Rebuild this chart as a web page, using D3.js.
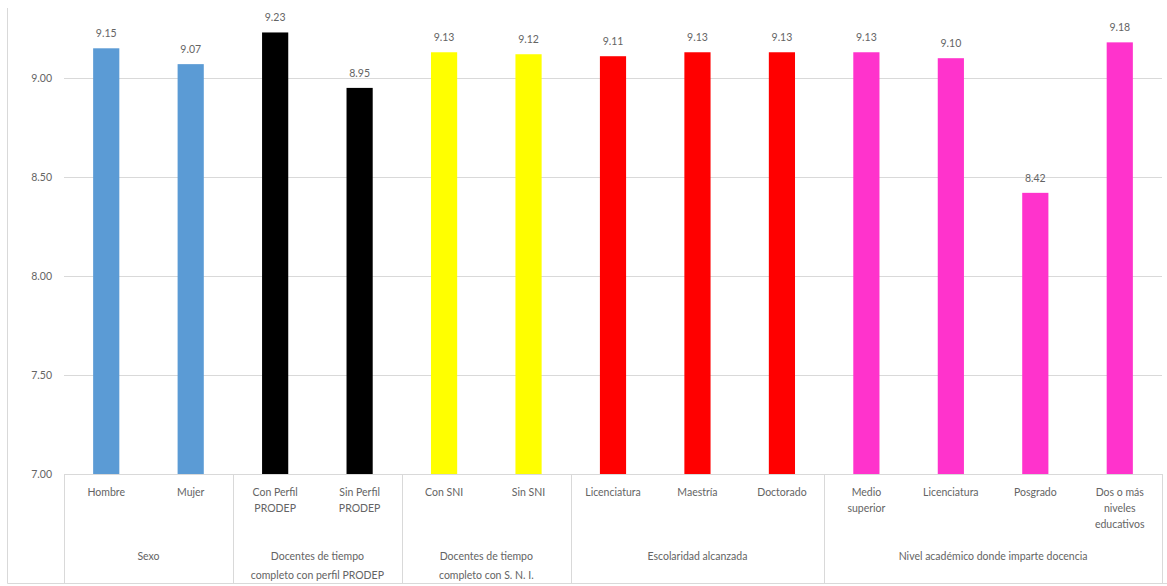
<!DOCTYPE html>
<html>
<head>
<meta charset="utf-8">
<script src="https://cdn.jsdelivr.net/npm/d3@7"></script>
<style>
  body { margin: 0; background: #fff; }
  svg { display: block; font-family: Lato, "Open Sans", sans-serif; }
</style>
</head>
<body>
<svg id="chart" width="1167" height="586"></svg>
<script>
// Categories, their values and the group each belongs to
const categories = [
  ["Hombre"], ["Mujer"],
  ["Con Perfil", "PRODEP"], ["Sin Perfil", "PRODEP"],
  ["Con SNI"], ["Sin SNI"],
  ["Licenciatura"], ["Maestría"], ["Doctorado"],
  ["Medio", "superior"], ["Licenciatura"], ["Posgrado"], ["Dos o más", "niveles", "educativos"]
];
const values = [9.15, 9.07, 9.23, 8.95, 9.13, 9.12, 9.11, 9.13, 9.13, 9.13, 9.10, 8.42, 9.18];
const groupOf = [0, 0, 1, 1, 2, 2, 3, 3, 3, 4, 4, 4, 4];
const groups = [
  ["Sexo"],
  ["Docentes de tiempo", "completo con perfil PRODEP"],
  ["Docentes de tiempo", "completo con S. N. I."],
  ["Escolaridad alcanzada"],
  ["Nivel académico donde imparte docencia"]
];
const groupColors = ["#5b9bd5", "#000000", "#ffff00", "#ff0000", "#ff33cc"];
const yTicks = [7.0, 7.5, 8.0, 8.5, 9.0];

const svg = d3.select("#chart");
const plotLeft = 64, plotRight = 1162, plotTop = 18.6, plotBottom = 474;
const textColor = "#646464";

const x = d3.scaleBand().domain(d3.range(values.length)).range([plotLeft, plotRight]).paddingInner(0.69).paddingOuter(0.345);
const y = d3.scaleLinear().domain([7, 9.3]).range([plotBottom, plotTop]);

// chart frame
svg.append("path").attr("d", `M7.5,8 V583.5 H1167`).attr("fill", "none").attr("stroke", "#d9d9d9");

// gridlines
svg.append("g").selectAll("line").data(yTicks.slice(1)).join("line")
  .attr("x1", plotLeft).attr("x2", plotRight)
  .attr("y1", d => Math.round(y(d)) + 0.5).attr("y2", d => Math.round(y(d)) + 0.5)
  .attr("stroke", "#d9d9d9");

// y axis labels
const yAxis = d3.axisLeft(y).tickValues(yTicks).tickFormat(d3.format(".2f")).tickSize(0).tickPadding(12);
const gy = svg.append("g").attr("transform", `translate(${plotLeft},0)`).call(yAxis);
gy.select(".domain").remove();
gy.selectAll("text").attr("fill", textColor).attr("font-size", 10.5).attr("font-family", "Lato, sans-serif");

// bars
svg.append("g").selectAll("rect").data(values).join("rect")
  .attr("x", (d, i) => x(i)).attr("width", x.bandwidth())
  .attr("y", d => y(d)).attr("height", d => y(7) - y(d))
  .attr("fill", (d, i) => groupColors[groupOf[i]]);

// value labels
svg.append("g").selectAll("text").data(values).join("text")
  .attr("x", (d, i) => x(i) + x.bandwidth() / 2)
  .attr("y", d => y(d) - 11)
  .attr("text-anchor", "middle").attr("font-size", 10.5).attr("fill", textColor)
  .text(d => d.toFixed(2));

// category axis line
svg.append("line").attr("x1", plotLeft).attr("x2", plotRight).attr("y1", plotBottom + 0.5).attr("y2", plotBottom + 0.5).attr("stroke", "#d9d9d9");

// group separators
const step = x.step();
const bounds = [0];
groupOf.forEach((g, i) => { if (i > 0 && g !== groupOf[i - 1]) bounds.push(i); });
bounds.push(values.length);
svg.append("g").selectAll("line").data(bounds).join("line")
  .attr("x1", d => Math.round(plotLeft + d * step) + 0.5).attr("x2", d => Math.round(plotLeft + d * step) + 0.5)
  .attr("y1", plotBottom).attr("y2", 583)
  .attr("stroke", "#d9d9d9");

// category labels
const lh = 16;
svg.append("g").selectAll("text").data(categories).join("text")
  .attr("text-anchor", "middle").attr("font-size", 10.5).attr("fill", textColor)
  .attr("transform", (d, i) => `translate(${x(i) + x.bandwidth() / 2},496)`)
  .selectAll("tspan").data(d => d).join("tspan")
  .attr("x", 0).attr("dy", (d, j) => j === 0 ? 0 : lh).text(d => d);

// group labels
svg.append("g").selectAll("text").data(groups).join("text")
  .attr("text-anchor", "middle").attr("font-size", 10.5).attr("fill", textColor)
  .attr("transform", (d, gi) => `translate(${plotLeft + (bounds[gi] + bounds[gi + 1]) / 2 * step},560)`)
  .selectAll("tspan").data(d => d).join("tspan")
  .attr("x", 0).attr("dy", (d, j) => j === 0 ? 0 : 19).text(d => d);
</script>
</body>
</html>
